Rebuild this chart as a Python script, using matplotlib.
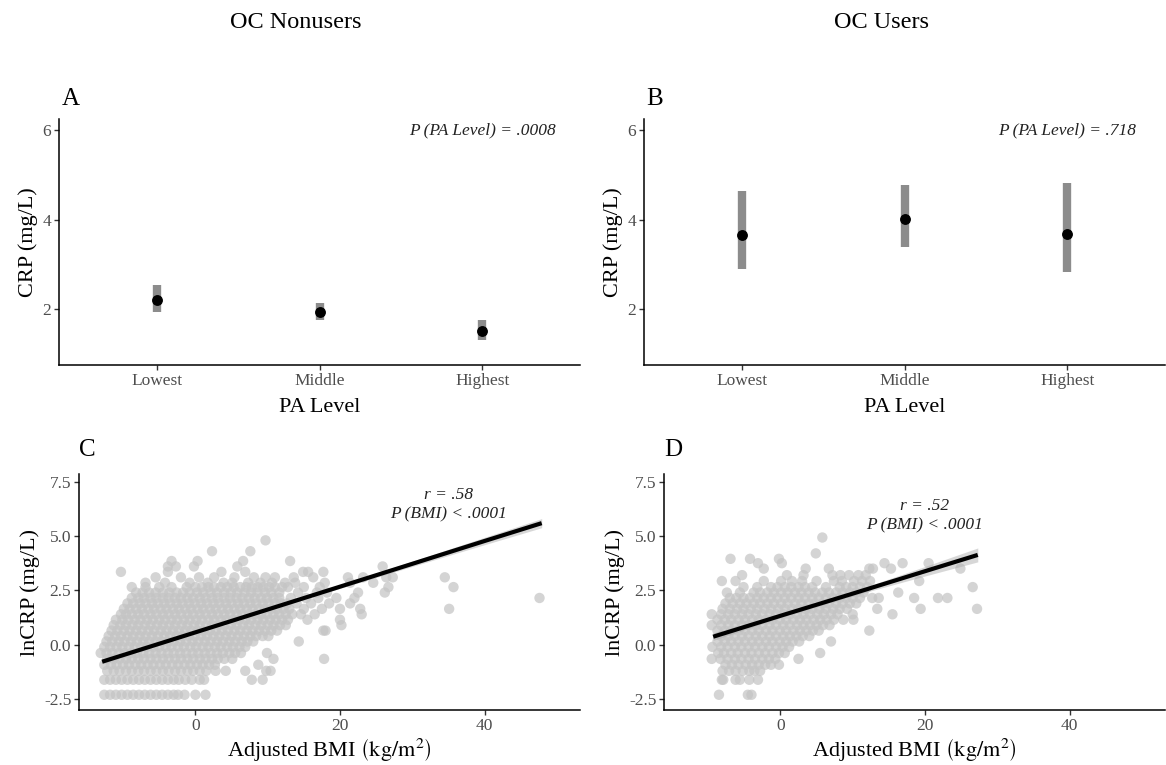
import matplotlib
matplotlib.use('Agg')
import matplotlib.pyplot as plt
import numpy as np

plt.rcParams['font.family'] = ['Liberation Serif', 'DejaVu Serif']
plt.rcParams['mathtext.fontset'] = 'stix'

# top panels: CRP by PA level
pa_levels = ['Lowest', 'Middle', 'Highest']
crp_nonusers = [2.21, 1.93, 1.52]
crp_nonusers_lo = [1.93, 1.76, 1.30]
crp_nonusers_hi = [2.54, 2.13, 1.76]
crp_users = [3.66, 4.02, 3.69]
crp_users_lo = [2.89, 3.38, 2.84]
crp_users_hi = [4.64, 4.78, 4.81]

# bottom panels: lnCRP level -> adjusted BMI values
nonusers_rows = {
    -2.30: [-12.6, -11.8, -11.0, -10.2, -9.4, -8.6, -7.8, -7.0, -6.2, -5.4, -4.6, -3.8, -3.0, -2.4, -1.5, 0.0, 1.4],
    -1.61: [-12.6, -11.8, -11.0, -10.2, -9.4, -8.6, -7.8, -7.0, -6.2, -5.4, -4.6, -3.8, -3.0, -2.3, -1.4, -0.5, 0.6,
            1.2, 7.8, 9.3],
    -1.20: [-12.2, -11.3, -10.5, -9.6, -8.8, -7.9, -7.1, -6.2, -5.4, -4.5, -3.7, -2.8, -2.0, -1.1, -0.3, 0.6, 1.5,
            2.8, 4.2, 6.9, 9.8, 10.4],
    -0.92: [-12.6, -11.7, -10.9, -10.0, -9.2, -8.3, -7.5, -6.6, -5.8, -4.9, -4.1, -3.2, -2.4, -1.5, -0.7, 0.2, 1.0,
            1.9, 2.7, 8.7],
    -0.65: [-12.2, -11.3, -10.5, -9.6, -8.8, -7.9, -7.1, -6.2, -5.4, -4.5, -3.7, -2.8, -2.0, -1.1, -0.3, 0.6, 1.4,
            2.3, 3.1, 4.0, 5.1, 10.8, 17.8],
    -0.38: [-13.1, -12.3, -11.5, -10.6, -9.8, -8.9, -8.1, -7.2, -6.4, -5.5, -4.7, -3.8, -3.0, -2.1, -1.3, -0.4, 0.4,
            1.3, 2.1, 3.0, 3.8, 4.7, 5.5, 6.3, 9.9],
    -0.10: [-12.6, -11.8, -10.9, -10.1, -9.2, -8.4, -7.5, -6.7, -5.8, -5.0, -4.1, -3.3, -2.4, -1.6, -0.7, 0.1, 1.0,
            1.8, 2.7, 3.5, 4.4, 5.2, 6.1, 6.9],
    0.15: [-12.3, -11.5, -10.6, -9.8, -8.9, -8.1, -7.2, -6.4, -5.5, -4.7, -3.8, -3.0, -2.1, -1.3, -0.4, 0.4, 1.3,
           2.1, 3.0, 3.8, 4.7, 5.5, 6.4, 7.2, 8.0, 14.3],
    0.40: [-12.0, -11.1, -10.3, -9.4, -8.6, -7.7, -6.9, -6.0, -5.2, -4.3, -3.5, -2.6, -1.8, -0.9, -0.1, 0.8, 1.6,
           2.5, 3.3, 4.2, 5.0, 5.9, 6.7, 7.6, 8.4, 9.3, 10.1],
    0.65: [-11.6, -10.8, -9.9, -9.1, -8.2, -7.4, -6.5, -5.7, -4.8, -4.0, -3.1, -2.3, -1.4, -0.6, 0.3, 1.1, 2.0,
           2.8, 3.7, 4.5, 5.4, 6.2, 7.1, 7.9, 8.8, 9.6, 10.5, 11.3, 17.7, 18.0],
    0.90: [-11.3, -10.4, -9.6, -8.7, -7.9, -7.0, -6.2, -5.3, -4.5, -3.6, -2.8, -1.9, -1.1, -0.2, 0.6, 1.5, 2.3,
           3.2, 4.0, 4.9, 5.7, 6.6, 7.4, 8.3, 9.1, 10.0, 10.8, 11.7, 12.5, 20.2],
    1.15: [-11.0, -10.1, -9.3, -8.4, -7.6, -6.7, -5.9, -5.0, -4.2, -3.3, -2.5, -1.6, -0.8, 0.1, 0.9, 1.8, 2.6,
           3.5, 4.3, 5.2, 6.0, 6.9, 7.7, 8.6, 9.4, 10.3, 11.1, 12.0, 12.8, 15.5, 20.0],
    1.40: [-10.3, -9.6, -8.8, -7.9, -7.1, -6.2, -5.4, -4.5, -3.7, -2.8, -2.0, -1.1, -0.3, 0.6, 1.4, 2.3, 3.1,
           4.0, 4.8, 5.7, 6.5, 7.4, 8.2, 9.1, 9.9, 10.8, 11.6, 12.5, 13.4, 14.6, 16.5, 23.0],
    1.65: [-9.9, -9.1, -8.2, -7.4, -6.5, -5.7, -4.8, -4.0, -3.1, -2.3, -1.4, -0.6, 0.3, 1.1, 2.0, 2.8, 3.7,
           4.5, 5.4, 6.2, 7.1, 7.9, 8.8, 9.6, 10.5, 11.3, 12.2, 13.0, 15.0, 17.5, 20.0, 22.8, 35.1],
    1.90: [-9.4, -8.6, -7.7, -6.9, -6.0, -5.2, -4.3, -3.5, -2.6, -1.8, -0.9, -0.1, 0.8, 1.6, 2.5, 3.3, 4.2,
           5.0, 5.9, 6.7, 7.6, 8.4, 9.3, 10.1, 11.0, 11.8, 12.7, 14.0, 16.0, 18.5, 21.4],
    2.15: [-8.8, -7.9, -7.1, -6.2, -5.4, -4.5, -3.7, -2.8, -2.0, -1.1, -0.3, 0.6, 1.4, 2.3, 3.1, 4.0, 4.8,
           5.7, 6.5, 7.4, 8.2, 9.1, 9.9, 10.8, 11.6, 13.2, 15.3, 17.0, 19.5, 22.0, 47.6],
    2.40: [-8.2, -7.3, -6.4, -5.5, -4.5, -3.6, -2.6, -1.7, -0.8, 0.2, 1.1, 2.1, 3.0, 4.0, 4.9, 5.8, 6.8,
           7.7, 8.6, 9.6, 10.5, 11.6, 14.2, 16.8, 18.2, 22.5, 26.2],
    2.65: [-8.8, -6.9, -5.0, -3.3, -1.2, 0.0, 0.9, 1.8, 2.6, 3.5, 4.4, 5.3, 6.2, 7.0, 7.8, 8.6, 9.4,
           10.2, 11.0, 12.0, 12.8, 15.0, 17.2, 26.7, 35.7],
    2.85: [-6.9, -4.2, -0.8, 1.7, 3.9, 5.1, 7.3, 9.0, 10.6, 12.4, 13.8, 17.9, 21.4, 24.6],
    3.10: [-5.5, -2.0, 0.5, 2.6, 5.4, 8.1, 9.7, 11.0, 13.6, 16.3, 21.1, 23.2, 26.4, 27.3, 34.5],
    3.35: [-10.3, -3.8, 3.6, 6.9, 14.9, 15.6, 17.7],
    3.60: [-3.8, -2.7, -0.2, 5.8, 25.9],
    3.85: [-3.3, 0.3, 6.6, 13.1],
    4.30: [2.3, 7.6],
    4.80: [9.7],
}

users_rows = {
    -2.30: [-8.5, -4.5, -4.0],
    -1.61: [-8.1, -7.9, -6.2, -5.6, -4.3, -3.1],
    -1.20: [-8.0, -7.1, -6.2, -5.2, -4.3, -3.6, -2.8],
    -0.92: [-7.6, -6.7, -5.8, -4.8, -3.9, -3.0, -2.1, -1.3, -0.2],
    -0.65: [-9.5, -8.3, -7.3, -6.3, -5.4, -4.4, -3.5, -2.5, -1.6, -0.7, 2.5],
    -0.38: [-8.6, -7.8, -6.8, -5.9, -4.9, -4.0, -3.0, -2.1, -1.1, -0.2, 0.6, 5.5],
    -0.10: [-9.4, -8.2, -7.3, -6.3, -5.4, -4.4, -3.5, -2.5, -1.6, -0.6, 0.3, 1.2],
    0.15: [-8.7, -7.7, -6.8, -5.8, -4.9, -3.9, -3.0, -2.0, -1.1, -0.1, 0.8, 1.7, 2.6, 7.0],
    0.40: [-8.2, -7.2, -6.3, -5.3, -4.4, -3.4, -2.5, -1.5, -0.6, 0.4, 1.3, 2.2, 3.1, 4.0],
    0.65: [-8.7, -7.7, -6.8, -5.8, -4.9, -3.9, -3.0, -2.0, -1.1, -0.1, 0.8, 1.8, 2.7, 3.6, 4.5, 5.3, 12.3],
    0.90: [-9.5, -8.2, -7.2, -6.3, -5.3, -4.4, -3.4, -2.5, -1.5, -0.6, 0.4, 1.3, 2.3, 3.2, 4.1, 5.0, 5.9, 6.8],
    1.15: [-8.7, -7.7, -6.8, -5.8, -4.9, -3.9, -3.0, -2.0, -1.1, -0.1, 0.8, 1.8, 2.7, 3.6, 4.6, 5.5, 6.4, 7.4,
           8.7, 10.1],
    1.40: [-9.5, -8.2, -7.2, -6.3, -5.3, -4.4, -3.4, -2.5, -1.5, -0.6, 0.4, 1.3, 2.3, 3.2, 4.1, 5.1, 6.0, 7.0,
           7.9, 10.0, 15.5],
    1.65: [-8.0, -7.0, -6.0, -5.1, -4.1, -3.2, -2.2, -1.3, -0.3, 0.6, 1.6, 2.5, 3.5, 4.4, 5.4, 6.3, 7.3, 8.2,
           9.2, 13.4, 19.4, 27.2],
    1.90: [-7.6, -6.6, -5.6, -4.7, -3.7, -2.8, -1.8, -0.9, 0.1, 1.0, 2.0, 2.9, 3.9, 4.8, 5.8, 6.7, 7.7, 8.6,
           9.6, 10.5],
    2.15: [-7.0, -6.1, -5.1, -4.2, -3.2, -2.3, -1.3, -0.4, 0.6, 1.5, 2.5, 3.4, 4.4, 5.3, 6.3, 7.2, 8.2, 9.1,
           10.0, 11.0, 12.7, 13.6, 18.5, 21.8, 23.1],
    2.40: [-7.4, -5.6, -3.7, -2.8, -1.8, -0.9, 0.1, 1.0, 2.0, 2.9, 3.9, 4.8, 5.8, 6.7, 7.7, 8.6, 9.6, 10.5,
           11.5, 16.3],
    2.65: [-5.1, -3.2, -1.3, -0.4, 0.6, 1.5, 2.5, 3.4, 4.4, 6.3, 8.2, 9.1, 10.0, 11.0, 12.0, 26.6],
    2.93: [-8.1, -6.2, -2.3, 0.1, 1.6, 3.0, 5.0, 7.4, 8.5, 10.2, 11.3, 12.4, 19.2],
    3.20: [-5.3, 0.9, 3.2, 7.2, 8.3, 9.5, 10.8, 11.8],
    3.50: [-2.3, 3.5, 6.7, 12.3, 12.8, 15.3, 24.9],
    3.75: [-3.1, 0.2, 14.4, 16.9, 20.5],
    3.95: [-6.9, -4.2, -0.2],
    4.20: [4.9],
    4.93: [5.8],
}

# fitted regression line with confidence band
fit_c_x = [-12.9, 0, 10, 20, 30, 40, 47.9]
fit_c_y = [-0.78, 0.57, 1.62, 2.67, 3.72, 4.77, 5.59]
fit_c_se = [0.09, 0.04, 0.05, 0.08, 0.12, 0.17, 0.21]
fit_d_x = [-9.3, 0, 10, 20, 27.3]
fit_d_y = [0.37, 1.33, 2.35, 3.38, 4.13]
fit_d_se = [0.17, 0.08, 0.10, 0.22, 0.32]


def rows_to_xy(rows):
    xs, ys = [], []
    for y, row in rows.items():
        xs += row
        ys += [y] * len(row)
    return np.array(xs), np.array(ys)


def style_axes(ax):
    for side in ['top', 'right']:
        ax.spines[side].set_visible(False)
    for side in ['left', 'bottom']:
        ax.spines[side].set_linewidth(1.1)
        ax.spines[side].set_color('black')
    ax.tick_params(axis='both', length=3.5, width=1, color='#333333',
                   labelcolor='#4d4d4d', labelsize=12.5, pad=2)


fig = plt.figure(figsize=(11.66, 7.65), dpi=100)
W, H = 1166, 765


def axes_px(left, top, right, bottom):
    return fig.add_axes([left / W, 1 - bottom / H, (right - left) / W, (bottom - top) / H])


top_panels = [
    (axes_px(59, 119, 580, 365), crp_nonusers, crp_nonusers_lo, crp_nonusers_hi, 'A', 'P (PA Level) = .0008'),
    (axes_px(644, 119, 1165, 365), crp_users, crp_users_lo, crp_users_hi, 'B', 'P (PA Level) = .718'),
]
for ax, mean, lo, hi, letter, ptext in top_panels:
    pos = np.arange(1, len(pa_levels) + 1)
    ax.vlines(pos, lo, hi, color='#8c8c8c', lw=6)
    ax.plot(pos, mean, 'o', color='black', markersize=6.8)
    ax.set_xlim(0.4, 3.6)
    ax.set_ylim(0.75, 6.25)
    ax.set_xticks(pos)
    ax.set_xticklabels(pa_levels)
    ax.set_yticks([2, 4, 6])
    style_axes(ax)
    ax.set_xlabel('PA Level', fontsize=16, labelpad=7)
    ax.set_ylabel('CRP (mg/L)', fontsize=16, labelpad=3)
    ax.text(3, 6, ptext, style='italic', fontsize=12.5, ha='center', va='center', color='#222222')
    ax.text(0.005, 1.08, letter, transform=ax.transAxes, fontsize=18, ha='left', va='center')

bottom_panels = [
    (axes_px(79, 474, 580, 710), nonusers_rows, fit_c_x, fit_c_y, fit_c_se, 'C', 'r = .58', 35, 6.45),
    (axes_px(664, 474, 1165, 710), users_rows, fit_d_x, fit_d_y, fit_d_se, 'D', 'r = .52', 20, 5.93),
]
for ax, rows, fx, fy, fse, letter, rtext, tx, ty in bottom_panels:
    bx, by = rows_to_xy(rows)
    ax.scatter(bx, by, s=56, color='#c4c4c4', alpha=0.72, edgecolors='none', zorder=1)
    fx, fy, fse = np.array(fx), np.array(fy), np.array(fse)
    ax.fill_between(fx, fy - fse, fy + fse, color='#a8a8a8', alpha=0.45, lw=0, zorder=2)
    ax.plot(fx, fy, color='black', lw=3, solid_capstyle='butt', zorder=3)
    ax.set_xlim(-16.1, 53.2)
    ax.set_ylim(-3.0, 7.85)
    ax.set_xticks([0, 20, 40])
    ax.set_yticks([-2.5, 0.0, 2.5, 5.0, 7.5])
    ax.set_yticklabels(['-2.5', '0.0', '2.5', '5.0', '7.5'])
    style_axes(ax)
    ax.set_xlabel(r'Adjusted BMI $\left(\mathrm{kg/m^2}\right)$', fontsize=16, labelpad=2)
    ax.set_ylabel('lnCRP (mg/L)', fontsize=16, labelpad=3)
    ax.text(tx, ty, rtext + '\nP (BMI) < .0001', style='italic', fontsize=12.5,
            ha='center', va='center', linespacing=1.3, color='#222222')
    ax.text(0.0, 1.1, letter, transform=ax.transAxes, fontsize=18, ha='left', va='center')

fig.text(296 / W, 1 - 22 / H, 'OC Nonusers', fontsize=17.5, ha='center', va='center')
fig.text(881 / W, 1 - 22 / H, 'OC Users', fontsize=17.5, ha='center', va='center')

fig.savefig('out.png', dpi=100)
